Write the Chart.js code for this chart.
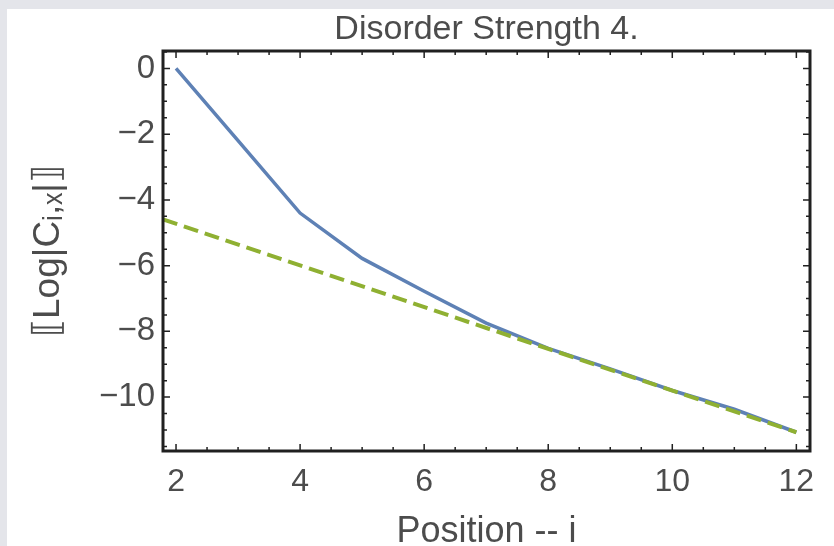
<!DOCTYPE html>
<html>
<head>
<meta charset="utf-8">
<script src="https://cdn.jsdelivr.net/npm/chart.js@4.4.0/dist/chart.umd.min.js"></script>
<style>
    html, body { margin: 0; padding: 0; }
    body { width: 834px; height: 546px; background: #e4e5ea; position: relative; overflow: hidden; }
    #papel { position: absolute; left: 7px; top: 9px; right: 0; bottom: 0; background: #ffffff; }
    #grafico { position: absolute; left: 0; top: 0; }
</style>
</head>
<body>
<div id="papel"></div>
<canvas id="grafico" width="834" height="546"></canvas>
<script>
// Dados (posição i e log da correlação)
const posicoes = [2, 3, 4, 5, 6, 7, 8, 9, 10, 11, 12];
const logCorrelacao = [0.0, -2.2, -4.4, -5.78, -6.78, -7.75, -8.52, -9.14, -9.8, -10.37, -11.07];

// Reta de ajuste (tracejada)
const ajusteX = [1.79, 12];
const ajusteY = [-4.59, -11.07];

// Marcas dos eixos
const ticksX = [2, 4, 6, 8, 10, 12];
const ticksY = [0, -2, -4, -6, -8, -10];

const corTexto = '#4c4c4c';
const fonte = "'Liberation Sans', Arial, sans-serif";

// Plugin para desenhar a moldura com as marcas para dentro
const molduraPlugin = {
    id: 'moldura',
    afterDatasetsDraw(chart) {
        const { ctx, chartArea: a, scales } = chart;
        const x = scales.x;
        const y = scales.y;
        ctx.save();
        ctx.strokeStyle = '#202020';
        ctx.lineWidth = 1.5;

        // Marcas no eixo x (em baixo e em cima)
        for (let v = 2; v <= 12; v += 0.5) {
            const px = x.getPixelForValue(v);
            const tam = ticksX.includes(v) ? 7 : 4;
            ctx.beginPath();
            ctx.moveTo(px, a.bottom);
            ctx.lineTo(px, a.bottom - tam);
            ctx.moveTo(px, a.top);
            ctx.lineTo(px, a.top + tam);
            ctx.stroke();
        }

        // Marcas no eixo y (esquerda e direita)
        for (let v = 0.5; v >= -11.5; v -= 0.5) {
            const py = y.getPixelForValue(v);
            const tam = ticksY.includes(v) ? 7 : 4;
            ctx.beginPath();
            ctx.moveTo(a.left, py);
            ctx.lineTo(a.left + tam, py);
            ctx.moveTo(a.right, py);
            ctx.lineTo(a.right - tam, py);
            ctx.stroke();
        }

        ctx.lineWidth = 3;
        ctx.strokeRect(a.left, a.top, a.right - a.left, a.bottom - a.top);
        ctx.restore();
    }
};

function formatarNumero(v) {
    return v < 0 ? '\u2212' + Math.abs(v) : String(v);
}

// Função para inicializar o gráfico
function inicializarGrafico() {
    const ctx = document.getElementById('grafico').getContext('2d');

    new Chart(ctx, {
        type: 'line',
        data: {
            datasets: [
                {
                    label: 'Log|C|',
                    data: posicoes.map((p, i) => ({ x: p, y: logCorrelacao[i] })),
                    borderColor: '#5e81b5',
                    borderWidth: 3.5,
                    pointRadius: 0,
                    tension: 0,
                    order: 1
                },
                {
                    label: 'Ajuste',
                    data: ajusteX.map((p, i) => ({ x: p, y: ajusteY[i] })),
                    borderColor: '#8fb032',
                    borderWidth: 4,
                    borderDash: [15, 7],
                    pointRadius: 0,
                    tension: 0,
                    order: 0
                }
            ]
        },
        options: {
            responsive: false,
            animation: false,
            layout: {
                padding: { left: 0, right: 24, top: 0, bottom: 0 }
            },
            scales: {
                x: {
                    type: 'linear',
                    position: 'bottom',
                    min: 1.79,
                    max: 12.22,
                    afterBuildTicks: s => { s.ticks = ticksX.map(v => ({ value: v })); },
                    afterFit: s => { s.height = 95; },
                    grid: { display: false, drawTicks: false },
                    border: { display: false },
                    ticks: {
                        padding: 12,
                        maxRotation: 0,
                        color: corTexto,
                        font: { family: fonte, size: 32 },
                        callback: v => formatarNumero(v)
                    },
                    title: {
                        display: true,
                        text: 'Position -- i',
                        color: corTexto,
                        padding: { top: 0, bottom: 0 },
                        font: { family: fonte, size: 36, lineHeight: 0.8 }
                    }
                },
                xTopo: {
                    type: 'linear',
                    position: 'top',
                    min: 1.79,
                    max: 12.22,
                    afterFit: s => { s.height = 51; },
                    grid: { display: false, drawTicks: false },
                    border: { display: false },
                    ticks: { display: false },
                    title: {
                        display: true,
                        text: 'Disorder Strength 4.',
                        color: corTexto,
                        padding: { top: 9, bottom: 2 },
                        font: { family: fonte, size: 34 }
                    }
                },
                y: {
                    type: 'linear',
                    min: -11.64,
                    max: 0.53,
                    afterBuildTicks: s => { s.ticks = ticksY.map(v => ({ value: v })); },
                    afterFit: s => { s.width = 163; },
                    grid: { display: false, drawTicks: false },
                    border: { display: false },
                    ticks: {
                        padding: 8,
                        color: corTexto,
                        font: { family: fonte, size: 33 },
                        callback: v => formatarNumero(v)
                    },
                    title: {
                        display: true,
                        text: '\u27E6Log|C\u1D62,\u2093|\u27E7',
                        color: corTexto,
                        padding: { top: 27, bottom: 0 },
                        font: { family: fonte, size: 37 }
                    }
                }
            },
            plugins: {
                legend: { display: false },
                tooltip: { enabled: false }
            }
        },
        plugins: [molduraPlugin]
    });
}

document.addEventListener('DOMContentLoaded', function() {
    inicializarGrafico();
});
</script>
</body>
</html>
